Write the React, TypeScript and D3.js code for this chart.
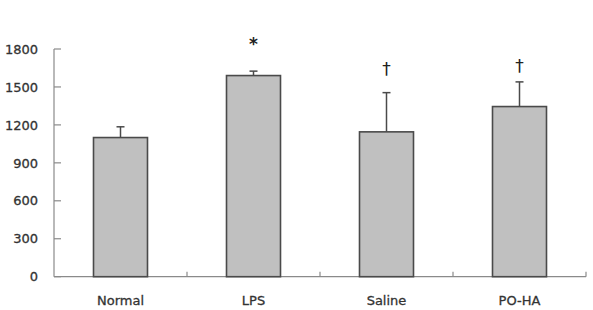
import * as d3 from "d3";

// Chart data
const groups = ["Normal", "LPS", "Saline", "PO-HA"];
const means = [1100, 1590, 1145, 1345];
const errors = [85, 35, 310, 195];
const marks = ["", "*", "†", "†"];
const markLevels = [0, 1795, 1592, 1620];
const yTicks = [0, 300, 600, 900, 1200, 1500, 1800];

const W = 593;
const H = 310;
const margin = { top: 49, right: 7, bottom: 33, left: 54 };

function App() {
    const x = d3.scaleBand<string>()
        .domain(groups)
        .range([margin.left, W - margin.right])
        .paddingInner(0.594)
        .paddingOuter(0.297);
    const step = x.step();
    const y = d3.scaleLinear().domain([0, 1800]).range([H - margin.bottom - 0.3, margin.top]);
    const x0 = margin.left;
    const x1 = W - margin.right;
    const y0 = y(0);
    const axisColor = "#8a8a8a";
    const font = "'DejaVu Sans', Verdana, sans-serif";
    const textColor = "#333";

    return (
        <svg width={W} height={H} style={{ position: "absolute", left: 0, top: 0 }}>
            <rect width={W} height={H} fill="#fff" />
            {/* y axis */}
            <line x1={x0} x2={x0} y1={y(1800)} y2={y0} stroke={axisColor} strokeWidth={1.2} />
            {yTicks.map(t => (
                <g key={t}>
                    <line x1={x0} x2={x0 + 7} y1={y(t)} y2={y(t)} stroke={axisColor} strokeWidth={1.2} />
                    <text x={38} y={y(t)} dy="0.36em" textAnchor="end" fontFamily={font}
                        fontSize={13} fill={textColor} stroke={textColor} strokeWidth={0.3}>{t}</text>
                </g>
            ))}
            {/* x axis */}
            <line x1={x0} x2={x1} y1={y0} y2={y0} stroke={axisColor} strokeWidth={1.2} />
            {groups.map((g, i) => (
                <line key={g} x1={x0 + step * (i + 1)} x2={x0 + step * (i + 1)} y1={y0} y2={y0 - 5}
                    stroke={axisColor} strokeWidth={1.2} />
            ))}
            {/* error bars */}
            {groups.map((g, i) => {
                const cx = (x(g) as number) + x.bandwidth() / 2;
                return (
                    <g key={g} stroke="#4a4a4a" strokeWidth={1.5}>
                        <line x1={cx} x2={cx} y1={y(means[i])} y2={y(means[i] + errors[i])} />
                        <line x1={cx - 4} x2={cx + 4} y1={y(means[i] + errors[i])} y2={y(means[i] + errors[i])} />
                    </g>
                );
            })}
            {/* bars */}
            {groups.map((g, i) => (
                <rect key={g} x={x(g)} y={y(means[i])} width={x.bandwidth()} height={y0 - y(means[i])}
                    fill="#c0c0c0" stroke="#4a4a4a" strokeWidth={1.6} />
            ))}
            {/* significance marks */}
            {groups.map((g, i) => marks[i] ? (
                <text key={g} x={(x(g) as number) + x.bandwidth() / 2} y={y(markLevels[i])}
                    textAnchor="middle" fontFamily={font} fontSize={17}
                    fontWeight={marks[i] === "*" ? "bold" : "normal"} fill="#222">{marks[i]}</text>
            ) : null)}
            {/* category labels */}
            {groups.map(g => (
                <text key={g} x={(x(g) as number) + x.bandwidth() / 2} y={305} textAnchor="middle"
                    fontFamily={font} fontSize={13} fill={textColor} stroke={textColor} strokeWidth={0.3}>{g}</text>
            ))}
        </svg>
    );
}

export default App;
